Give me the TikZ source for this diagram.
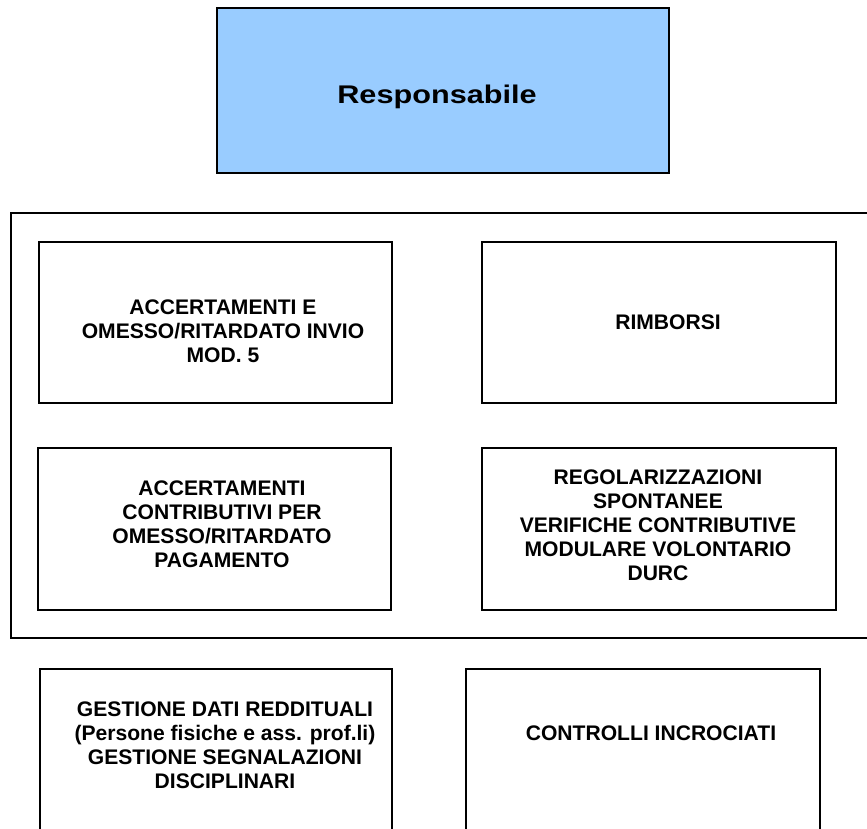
\documentclass[tikz,border=0pt]{standalone}
\usepackage{fontspec}
\setmainfont{Liberation Sans}
\newfontfamily\widefont[FakeStretch=1.2]{Liberation Sans}
\usepackage{tikz}
\definecolor{respblue}{HTML}{99CCFF}

\tikzset{
  boxline/.style={black, line width=1.8pt},
  boxtext/.style={align=center, inner sep=0pt, font=\fontsize{18}{20.6}\selectfont\bfseries}
}

\begin{document}
\begin{tikzpicture}[x=0.03cm, y=-0.03cm]
\useasboundingbox (0,0) rectangle (867,828);
\clip (0,0) rectangle (867,828);

% the head box
\draw [boxline, fill=respblue] (217,8) rectangle (669,173);
\node [anchor=base, inner sep=0pt, font=\widefont\fontsize{21.8}{24}\selectfont\bfseries] (resp) at (437,103) {Responsabile};

% the outer frame
\draw [boxline] (11,213) rectangle (885,638);

% upper row
\draw [boxline] (39,242) rectangle (392,403);
\node [boxtext] (invio) at (223,331) {ACCERTAMENTI E\\OMESSO/RITARDATO INVIO\\MOD. 5};
\draw [boxline] (482,242) rectangle (836,403);
\node [boxtext] (rimb) at (668,322) {RIMBORSI};

% lower row
\draw [boxline] (38,448) rectangle (391,610);
\node [boxtext] (pagam) at (222,524) {ACCERTAMENTI\\CONTRIBUTIVI PER\\OMESSO/RITARDATO\\PAGAMENTO};
\draw [boxline] (482,448) rectangle (836,610);
\node [boxtext] (regol) at (658,525) {REGOLARIZZAZIONI\\SPONTANEE\\VERIFICHE CONTRIBUTIVE\\MODULARE VOLONTARIO\\DURC};

% the boxes outside the frame
\draw [boxline] (40,669) rectangle (392,850);
\node [boxtext] (reddit) at (225,745) {GESTIONE DATI REDDITUALI\\(Persone fisiche e ass. prof.li)\\GESTIONE SEGNALAZIONI\\DISCIPLINARI};
\draw [boxline] (466,669) rectangle (820,850);
\node [boxtext] (incroc) at (651,733) {CONTROLLI INCROCIATI};

\end{tikzpicture}
\end{document}
